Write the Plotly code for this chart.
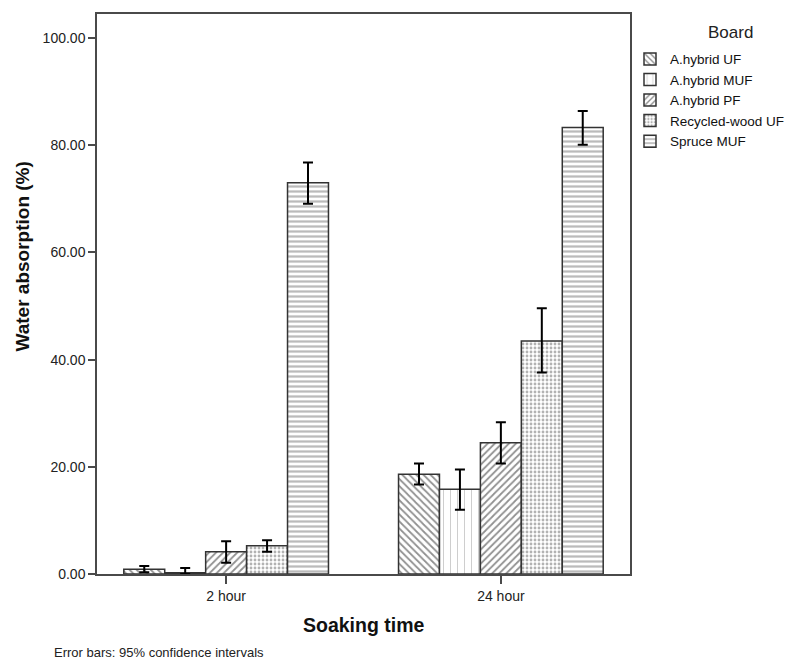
import plotly.graph_objects as go

# Soaking time categories and board types
soaking_times = ["2 hour", "24 hour"]
boards = ["A.hybrid UF", "A.hybrid MUF", "A.hybrid PF", "Recycled-wood UF", "Spruce MUF"]

# Mean water absorption (%) per board, one list per soaking time
mean_2h = [0.87, 0.25, 4.15, 5.26, 73.0]
mean_24h = [18.6, 15.8, 24.5, 43.5, 83.3]

# 95% confidence interval half-widths (upper / lower)
ci_up_2h = [0.62, 0.85, 1.95, 1.05, 3.8]
ci_down_2h = [0.55, 0.25, 2.05, 1.1, 3.9]
ci_up_24h = [2.0, 3.7, 3.8, 6.1, 3.1]
ci_down_24h = [1.9, 3.8, 3.9, 5.9, 3.2]

y_ticks = [0, 20, 40, 60, 80, 100]

# Fill patterns for each board
patterns = [
    dict(shape="\\", size=5, solidity=0.35, fgcolor="#222222"),
    dict(shape="|", size=7, solidity=0.12, fgcolor="#8a8a8a"),
    dict(shape="/", size=5, solidity=0.35, fgcolor="#222222"),
    dict(shape=".", size=4, solidity=0.4, fgcolor="#666666"),
    dict(shape="-", size=5, solidity=0.45, fgcolor="#777777"),
]

fig = go.Figure()
for i, board in enumerate(boards):
    fig.add_trace(go.Bar(
        name=board,
        x=soaking_times,
        y=[mean_2h[i], mean_24h[i]],
        marker=dict(color="white", line=dict(color="#333333", width=1.5),
                    pattern=dict(bgcolor="white", fillmode="overlay", **patterns[i])),
        error_y=dict(type="data", symmetric=False,
                     array=[ci_up_2h[i], ci_up_24h[i]],
                     arrayminus=[ci_down_2h[i], ci_down_24h[i]],
                     color="black", thickness=2, width=5),
    ))

font_family = "Liberation Sans, Arial, sans-serif"

fig.update_layout(
    width=805, height=662,
    margin=dict(l=97, r=175, t=12, b=88),
    paper_bgcolor="white", plot_bgcolor="white",
    barmode="group", bargap=0.255, bargroupgap=0,
    font=dict(family=font_family, size=14, color="#222222"),
    showlegend=True,
    legend=dict(
        x=1.0, xanchor="left", y=0.947, yanchor="top",
        font=dict(size=13.5, color="#111111"),
        tracegroupgap=0, itemwidth=30,
        bgcolor="rgba(0,0,0,0)",
    ),
    xaxis=dict(
        range=[-0.47, 1.47],
        showline=True, mirror=True, linecolor="#4a4a4a", linewidth=1.5,
        ticks="outside", ticklen=8, tickcolor="#4a4a4a", tickwidth=1.5,
        tickfont=dict(size=14, color="#222222"),
        showgrid=False, zeroline=False,
    ),
    yaxis=dict(
        range=[0, 104.5],
        tickvals=y_ticks, tickformat=".2f",
        showline=True, mirror=True, linecolor="#4a4a4a", linewidth=1.5,
        ticks="outside", ticklen=7, tickcolor="#4a4a4a", tickwidth=1.5,
        tickfont=dict(size=14, color="#222222"),
        showgrid=False, zeroline=False,
    ),
    annotations=[
        dict(text="Board", xref="paper", yref="paper",
             x=(730 - 97) / 533, y=(574 - 31) / 562, xanchor="center", yanchor="middle",
             showarrow=False, font=dict(size=17, color="#222222")),
        dict(text="<b>Soaking time</b>", xref="paper", yref="paper",
             x=0.5, y=-0.068, xanchor="center", yanchor="top", showarrow=False,
             font=dict(size=19.5, color="#111111")),
        dict(text="<b>Water absorption (%)</b>", xref="paper", yref="paper",
             x=-0.14, y=0.5676, xanchor="center", yanchor="middle", textangle=-90,
             showarrow=False, font=dict(size=19, color="#111111")),
        dict(text="Error bars: 95% confidence intervals", xref="paper", yref="paper",
             x=(52 - 97) / 533, y=-0.1228, xanchor="left", yanchor="top", showarrow=False,
             font=dict(size=13, color="#222222")),
    ],
)

fig.write_html("out.html")
